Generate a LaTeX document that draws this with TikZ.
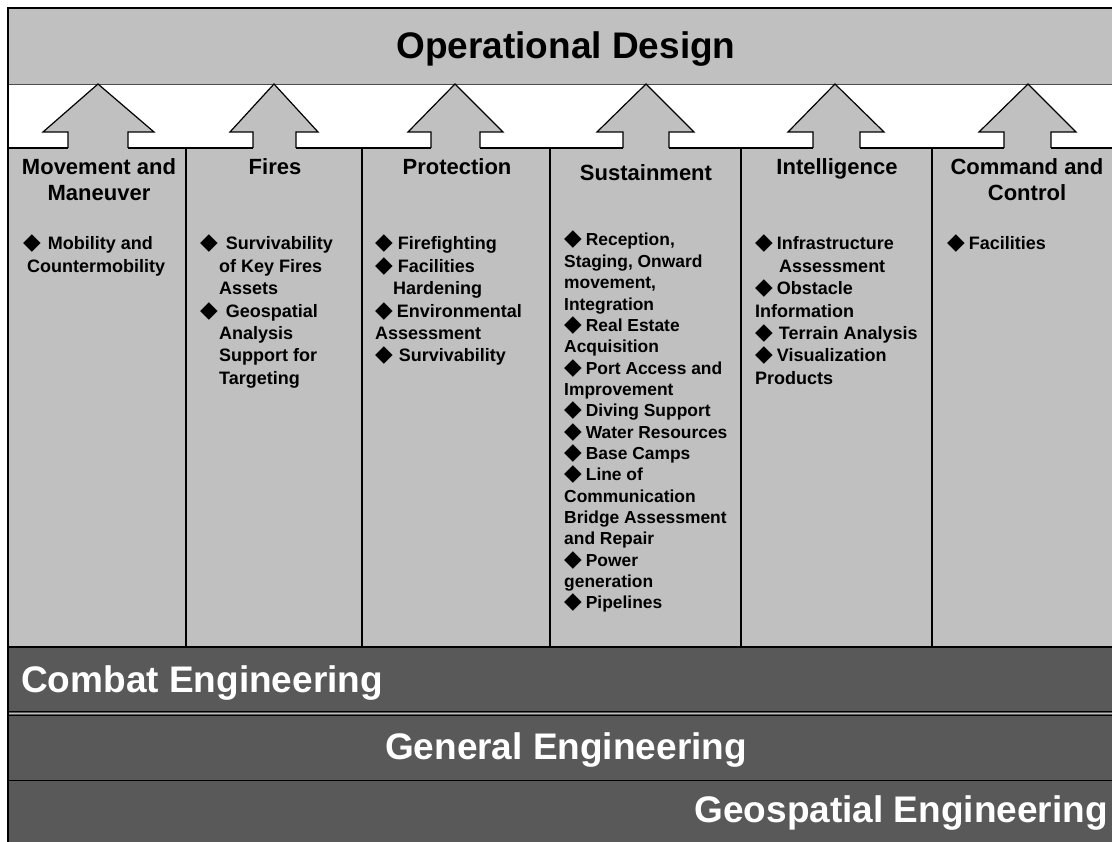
\documentclass[tikz,border=0pt]{standalone}
\usepackage{fontspec}
\setmainfont{Liberation Sans}
\newfontfamily\symf{DejaVu Sans}
\definecolor{panel}{HTML}{C0C0C0}
\definecolor{band}{HTML}{595959}
\newcommand{\dia}{{\symf\fontsize{23}{23}\selectfont\char"25C6}\hspace{4pt}}

\begin{document}
\begin{tikzpicture}[x=1pt, y=-1pt,
	title/.style={font=\fontsize{37}{40}\selectfont\bfseries, anchor=base, inner sep=0},
	head/.style={font=\fontsize{22}{26}\selectfont\bfseries, anchor=base, inner sep=0},
	items/.style={font=\fontsize{18}{22.4}\selectfont\bfseries, anchor=base west, inner sep=0},
	bandtext/.style={title, text=white},
	blockarrow/.style={draw=black, fill=panel, line width=1.2pt}]
		\useasboundingbox (0,0) rectangle (1112,842);
		% Panels
		\fill[white] (0,0) rectangle (1112,842);
		\fill[panel] (8,8) rectangle (1112,84);
		\fill[panel] (8,148) rectangle (1112,647);
		\fill[band] (8,647) rectangle (1112,842);
		\draw[line width=0.8pt, black!70] (8,84) -- (1112,84);
		% Arrows
		\draw[blockarrow] (68,148) -- (68,132) -- (43,132) -- (98,84) -- (154,132) -- (128,132) -- (128,148);
		\draw[blockarrow] (253,148) -- (253,132) -- (230,132) -- (274,84) -- (318,132) -- (296,132) -- (296,148);
		\draw[blockarrow] (431,148) -- (431,132) -- (408,132) -- (455,84) -- (503,132) -- (480,132) -- (480,148);
		\draw[blockarrow] (623,148) -- (623,132) -- (597,132) -- (646,84) -- (694,132) -- (669,132) -- (669,148);
		\draw[blockarrow] (813,148) -- (813,132) -- (788,132) -- (835,84) -- (884,132) -- (860,132) -- (860,148);
		\draw[blockarrow] (1004,148) -- (1004,132) -- (979,132) -- (1028,84) -- (1076,132) -- (1051,132) -- (1051,148);
		% Column edges
		\draw[line width=1.2pt] (8,148) -- (68,148) (128,148) -- (253,148) (296,148) -- (431,148)
			(480,148) -- (623,148) (669,148) -- (813,148) (860,148) -- (1004,148) (1051,148) -- (1112,148);
		\draw[line width=1.8pt] (186,148) -- (186,647);
		\draw[line width=1.8pt] (362,148) -- (362,647);
		\draw[line width=1.8pt] (550,148) -- (550,647);
		\draw[line width=1.8pt] (741,148) -- (741,647);
		\draw[line width=1.8pt] (932,148) -- (932,647);
		\draw[line width=1.8pt] (8,647) -- (1112,647);
		% Band edges
		\draw[line width=0.9pt] (8,711.8) -- (1112,711.8);
		\draw[line width=0.9pt, panel] (8,713.4) -- (1112,713.4);
		\draw[line width=0.9pt] (8,715) -- (1112,715);
		\draw[line width=1.2pt] (8,780.5) -- (1112,780.5);
		\draw[line width=2.5pt] (8,842) -- (8,8) -- (1112,8);
		% Titles
		\node[title] (Design) at (566,58.5) {Operational Design};
		\node[head] (Movement) at (99,175) {\parbox[t]{170pt}{\centering Movement and\\Maneuver}};
		\node[head] (Fires) at (275,175) {Fires};
		\node[head] (Protection) at (457,175) {Protection};
		\node[head] (Sustainment) at (646,181) {Sustainment};
		\node[head] (Intelligence) at (837,175) {Intelligence};
		\node[head] (Command) at (1027,175) {\parbox[t]{175pt}{\centering Command and\\Control}};
		% Items
		\node[items] (Mobility list) at (23,250) {\parbox[t]{160pt}{\dia\hspace{3pt}Mobility and\\
			\hspace*{4pt}Countermobility}};
		\node[items] (Fires list) at (200,250) {\parbox[t]{160pt}{\dia\hspace{4pt}Survivability\\
			\hspace*{19pt}of Key Fires\\ \hspace*{19pt}Assets\\
			\dia\hspace{4pt}Geospatial\\ \hspace*{19pt}Analysis\\
			\hspace*{19pt}Support for\\ \hspace*{19pt}Targeting}};
		\node[items] (Protection list) at (375,250) {\parbox[t]{175pt}{\dia\hspace{1pt}Firefighting\\
			\dia\hspace{1pt}Facilities\\ \hspace*{18pt}Hardening\\
			\dia Environmental\\ Assessment\\
			\dia\hspace{2pt}Survivability}};
		\node[items, font=\fontsize{17.4}{21.35}\selectfont\bfseries] (Sustainment list) at (564,246) {\parbox[t]{180pt}{\dia Reception,\\
			Staging, Onward\\ movement,\\ Integration\\
			\dia Real Estate\\ Acquisition\\
			\dia Port Access and\\ Improvement\\
			\dia Diving Support\\
			\dia Water Resources\\
			\dia Base Camps\\
			\dia Line of\\ Communication\\ Bridge Assessment\\ and Repair\\
			\dia Power\\ generation\\
			\dia Pipelines}};
		\node[items] (Intelligence list) at (755,250) {\parbox[t]{175pt}{\dia Infrastructure\\
			\hspace*{24pt}Assessment\\
			\dia Obstacle\\ Information\\
			\dia\hspace{2pt}Terrain Analysis\\
			\dia Visualization\\ Products}};
		\node[items] (Command list) at (947,250) {\parbox[t]{160pt}{\dia Facilities}};
		% Bands
		\node[bandtext, anchor=base west] (Combat) at (21,692) {Combat Engineering};
		\node[bandtext] (General) at (566,759) {General Engineering};
		\node[bandtext, anchor=base east] (Geospatial) at (1108,822) {Geospatial Engineering};
	\end{tikzpicture}
\end{document}
